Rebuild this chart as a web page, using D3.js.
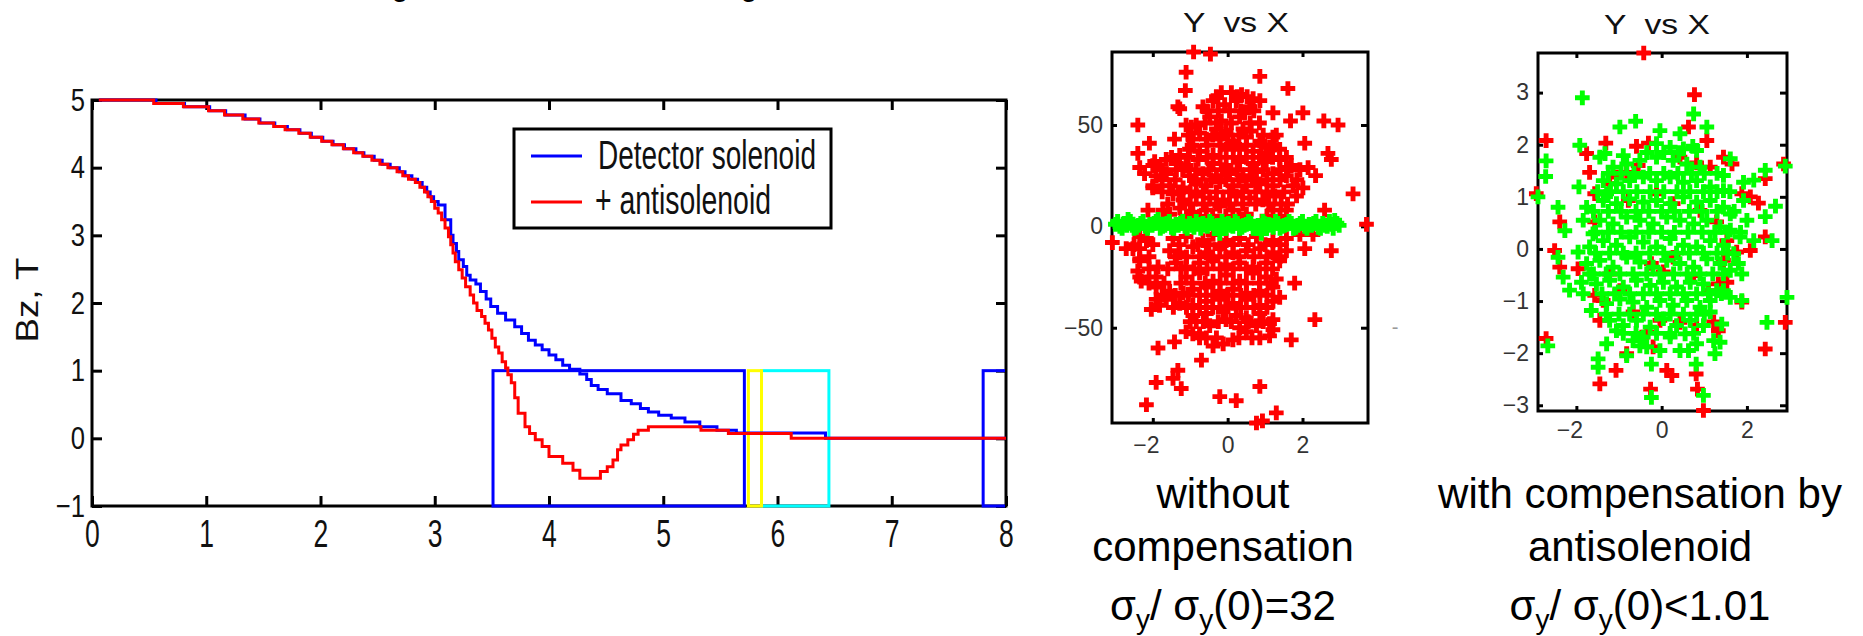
<!DOCTYPE html>
<html><head><meta charset="utf-8">
<script src="https://cdn.jsdelivr.net/npm/d3@7"></script>
<style>body{margin:0;background:#fff}svg{display:block}text{font-family:"Liberation Sans",Arial,sans-serif}</style>
</head><body><svg id="c" width="1863" height="636"></svg>
<script>
// ---------- data ----------
const mainXTicks=[0,1,2,3,4,5,6,7,8];
const mainYTicks=[-1,0,1,2,3,4,5];
const yAxisLabel="Bz, T";
const legendLabels=["Detector solenoid","+ antisolenoid"];
const detectorSolenoid=[[0.06,5.00],[0.56,4.95],[0.81,4.90],[1.03,4.84],[1.17,4.78],[1.34,4.72],[1.47,4.66],[1.60,4.61],[1.71,4.56],[1.82,4.51],[1.92,4.45],[2.02,4.39],[2.11,4.34],[2.21,4.28],[2.31,4.22],[2.38,4.17],[2.47,4.11],[2.54,4.05],[2.61,4.00],[2.69,3.94],[2.74,3.88],[2.80,3.83],[2.85,3.78],[2.89,3.71],[2.93,3.64],[2.96,3.57],[2.99,3.50],[3.03,3.45],[3.09,3.23],[3.14,3.00],[3.16,2.88],[3.19,2.76],[3.21,2.64],[3.25,2.54],[3.28,2.41],[3.31,2.34],[3.36,2.28],[3.40,2.17],[3.45,2.06],[3.49,1.95],[3.55,1.85],[3.62,1.75],[3.70,1.65],[3.76,1.55],[3.82,1.45],[3.88,1.38],[3.94,1.31],[4.00,1.23],[4.06,1.16],[4.12,1.08],[4.18,1.02],[4.27,0.95],[4.33,0.87],[4.37,0.78],[4.43,0.72],[4.51,0.66],[4.63,0.56],[4.72,0.51],[4.80,0.44],[4.87,0.39],[4.96,0.34],[5.07,0.30],[5.19,0.24],[5.32,0.17],[5.47,0.12],[5.64,0.08],[6.42,0.00],[8.00,0.00]];
const withAntisolenoid=[[0.06,5.00],[0.54,4.95],[0.80,4.90],[1.02,4.84],[1.16,4.78],[1.32,4.72],[1.46,4.66],[1.59,4.61],[1.69,4.56],[1.81,4.51],[1.91,4.45],[2.01,4.39],[2.10,4.34],[2.20,4.28],[2.29,4.22],[2.37,4.17],[2.45,4.11],[2.52,4.05],[2.59,4.00],[2.67,3.94],[2.72,3.88],[2.77,3.83],[2.83,3.78],[2.87,3.71],[2.91,3.64],[2.94,3.57],[2.97,3.50],[3.00,3.40],[3.03,3.33],[3.06,3.23],[3.09,3.11],[3.12,2.98],[3.14,2.86],[3.16,2.74],[3.18,2.61],[3.21,2.49],[3.24,2.37],[3.27,2.24],[3.31,2.12],[3.34,2.00],[3.37,1.89],[3.41,1.80],[3.44,1.70],[3.47,1.60],[3.50,1.48],[3.53,1.35],[3.56,1.26],[3.59,1.13],[3.62,1.04],[3.64,0.94],[3.67,0.82],[3.70,0.60],[3.73,0.37],[3.79,0.17],[3.83,0.07],[3.88,-0.02],[3.94,-0.12],[4.00,-0.27],[4.12,-0.37],[4.21,-0.47],[4.27,-0.59],[4.45,-0.49],[4.51,-0.42],[4.56,-0.32],[4.60,-0.17],[4.63,-0.10],[4.69,-0.02],[4.74,0.06],[4.78,0.12],[4.87,0.17],[5.33,0.12],[5.57,0.07],[6.12,0.00],[8.00,0.00]];
// element regions (z start, z end), field band -1..1
const regionStart=[3.51,5.86,5.745,7.80];
const regionEnd=[5.71,6.45,5.86,8.30];
const regionLow=-1, regionHigh=1;

const scatterTitle="Y  vs X";
const s1XTicks=[-2,0,2], s1YTicks=[-50,0,50];
const s2XTicks=[-2,0,2], s2YTicks=[-3,-2,-1,0,1,2,3];
const s1Red=[[-0.91,86],[-0.46,85],[-1.11,76],[0.86,74],[-1.13,67],[1.61,68],[-1.28,58],[1.21,56],[2.01,56],[-2.40,50],[1.68,52],[2.57,52],[2.95,50],[-2.09,41],[-1.42,43],[2.06,41],[-2.40,36],[2.68,36],[2.77,33],[-2.35,29],[-2.22,26],[-2.00,30],[-1.95,32],[2.15,29],[2.35,25],[-2.00,19],[3.35,16],[-2.13,8],[2.59,8],[3.71,1],[-3.08,-8],[-2.17,-6],[-2.53,-11],[2.06,-11],[2.77,-12],[-2.35,-17],[-2.40,-22],[-2.31,-27],[-1.86,-20],[1.79,-28],[2.33,-46],[1.70,-56],[-1.86,-60],[-1.42,-57],[-0.70,-66],[-1.33,-71],[-1.91,-77],[-1.46,-75],[-1.24,-80],[0.86,-79],[-2.17,-88],[-0.21,-84],[0.23,-86],[1.30,-92],[0.77,-97],[0.93,-96],
[-0.17,66],[0.10,66],[0.37,65],[0.68,63],[-0.66,59],[-0.39,62],[-0.08,60],[0.23,62],[0.59,59],[0.86,62],[-1.33,59],[-0.48,54],[-0.17,52],[0.32,54],[0.45,56],[-0.84,50],[-1.11,50],[-0.30,48],[-0.04,47],[0.41,48],[0.63,47],[-0.97,49],[-0.75,46],
[-0.93,43],[-0.57,43],[-0.21,43],[0.14,42],[0.50,44],[0.86,42],[1.21,44],[1.12,39],[-1.28,35],[-1.02,38],[-0.75,37],[-0.39,35],[-0.04,38],[0.32,38],[0.68,37],[1.03,36],[1.39,38],[1.57,34],
[-1.64,33],[-1.37,31],[-1.11,30],[-0.79,33],[-0.39,31],[-0.04,30],[0.32,32],[0.68,31],[1.03,32],[1.39,33],[1.61,29],[1.70,30],
[-1.91,25],[-1.64,26],[-1.37,28],[-1.02,25],[-0.66,26],[-0.30,25],[0.05,26],[0.41,25],[0.77,27],[1.21,26],[1.57,25],[1.93,28],
[-2.00,20],[-1.55,20],[-1.19,19],[-0.84,21],[-0.57,20],[-0.21,22],[0.14,20],[0.50,20],[0.86,21],[1.21,20],[1.75,20],[2.01,19],[1.84,15],
[-1.46,16],[-1.19,13],[-0.84,15],[-0.48,14],[-0.12,13],[0.23,15],[0.59,14],[0.94,13],[1.26,15],[1.43,11],
[-1.73,8],[-1.28,9],[-0.93,7],[-0.57,8],[-0.21,10],[0.14,8],[0.50,6],[1.21,8],[1.57,8],[-1.55,6],
[-2.35,-5],[-2.17,-7],[-1.46,-6],[-1.11,-5],[-0.66,-7],[-0.39,-4],[-0.04,-7],[0.32,-6],[0.77,-5],[1.21,-7],[1.57,-6],[1.93,-4],[2.28,-4],
[-2.71,-11],[-2.35,-11],[-1.55,-12],[-1.28,-13],[-0.93,-10],[-0.57,-13],[-0.21,-11],[0.14,-13],[0.50,-12],[0.86,-11],[1.21,-13],[1.57,-12],
[-2.35,-16],[-1.37,-18],[-1.11,-20],[-0.75,-18],[-0.39,-17],[-0.04,-19],[0.32,-18],[0.68,-20],[1.03,-18],[1.39,-17],
[-2.35,-25],[-1.91,-25],[-1.11,-25],[-0.75,-23],[-0.39,-27],[-0.04,-24],[0.32,-27],[0.68,-23],[1.03,-25],[1.30,-26],
[-1.91,-30],[-1.55,-32],[-1.19,-33],[-0.93,-31],[-0.57,-30],[-0.21,-32],[0.14,-31],[0.50,-33],[0.86,-32],[1.21,-30],[1.39,-35],
[-1.91,-36],[-1.64,-36],[-1.28,-38],[-0.93,-39],[-0.57,-37],[-0.21,-36],[0.14,-38],[0.50,-36],[0.86,-39],[1.21,-37],
[-2.04,-41],[-1.82,-39],[-0.93,-44],[-0.57,-43],[-0.12,-42],[0.23,-44],[0.50,-45],[0.86,-43],[1.21,-46],
[-0.84,-47],[-0.48,-49],[-0.04,-46],[0.32,-50],[0.77,-49],[1.12,-48],[1.21,-51],[-1.11,-52],[-0.75,-53],
[-0.57,-55],[-0.12,-58],[0.14,-56],[0.50,-52],[0.86,-55],[1.12,-54],[-0.39,-59],[-0.93,-53],
[-0.30,64],[0.25,64],[0.52,64],[-0.55,57],[-0.25,57],[0.05,57],[0.35,57],[0.70,57],[-0.60,51],[-0.30,51],[0.10,51],[0.60,51],[0.85,51],
[-1.05,45],[-0.40,45],[0.00,45],[0.30,45],[0.95,45],[1.30,45],[-0.95,40],[-0.55,40],[-0.20,40],[0.15,40],[0.50,40],[0.90,40],[1.25,40],
[-1.50,34],[-1.05,34],[-0.55,34],[-0.20,34],[0.15,34],[0.50,34],[0.85,34],[1.20,34],
[-1.75,28],[-1.20,28],[-0.85,28],[-0.50,28],[-0.15,28],[0.25,28],[0.60,28],[0.95,28],[1.40,28],
[-1.75,23],[-1.40,23],[-0.85,23],[-0.45,23],[-0.05,23],[0.30,23],[0.65,23],[1.05,23],[1.40,23],[1.85,23],
[-1.75,17],[-1.30,17],[-1.00,17],[-0.65,17],[-0.30,17],[0.05,17],[0.40,17],[0.75,17],[1.05,17],[1.50,17],
[-1.60,11],[-1.00,11],[-0.65,11],[-0.30,11],[0.05,11],[0.40,11],[0.75,11],[1.10,11],[1.60,11],
[-1.10,5],[-0.75,5],[-0.40,5],[-0.05,5],[0.30,5],[1.05,5],[1.40,5],
[-2.50,-9],[-2.00,-9],[-1.30,-9],[-0.80,-9],[-0.50,-9],[-0.20,-9],[0.15,-9],[0.55,-9],[1.00,-9],[1.40,-9],
[-2.10,-15],[-1.40,-15],[-1.10,-15],[-0.75,-15],[-0.40,-15],[-0.05,-15],[0.30,-15],[0.70,-15],[1.05,-15],[1.40,-15],
[-2.10,-21],[-1.60,-21],[-1.25,-21],[-0.90,-21],[-0.55,-21],[-0.20,-21],[0.15,-21],[0.50,-21],[0.85,-21],[1.20,-21],
[-2.10,-28],[-1.70,-28],[-1.25,-28],[-0.95,-28],[-0.60,-28],[-0.20,-28],[0.15,-28],[0.50,-28],[0.85,-28],[1.15,-28],
[-1.75,-34],[-1.40,-34],[-1.05,-34],[-0.75,-34],[-0.40,-34],[0.00,-34],[0.35,-34],[0.70,-34],[1.05,-34],
[-1.45,-40],[-1.10,-40],[-0.75,-40],[-0.40,-40],[-0.05,-40],[0.35,-40],[0.70,-40],[1.05,-40],
[-1.00,-47],[-0.65,-47],[-0.25,-47],[0.10,-47],[0.55,-47],[0.95,-47],[-0.75,-55],[-0.30,-55],[0.30,-55],[0.65,-55]];
const s1Green=[[-3.00,1],[-2.88,0],[-2.76,1.5],[-2.66,3.5],[-2.55,0.5],[-2.44,-0.5],[-2.32,1.5],[-2.20,0],[-2.08,1],[-1.96,1.5],[-1.86,3.5],[-1.74,0],[-1.62,1.5],[-1.50,-0.5],[-1.38,1],[-1.26,1.5],[-1.14,0],[-1.02,1.5],[-0.90,-0.5],[-0.78,1],[-0.66,1.5],[-0.54,0],[-0.42,1.5],[-0.30,-0.5],[-0.21,-3.5],[-0.10,1],[0.02,1.5],[0.14,0],[0.26,1.5],[0.38,-0.5],[0.50,1],[0.62,1.5],[0.74,0],[0.90,-3.5],[0.98,1.5],[1.10,1],[1.22,-0.5],[1.34,1.5],[1.46,0],[1.58,1],[1.70,1.5],[1.82,-0.5],[1.94,1.5],[2.06,0],[2.18,1],[2.30,1.5],[2.42,-0.5],[2.54,1.5],[2.66,0],[2.78,1],[2.86,3],[2.98,0.5],
[-2.94,2.5],[-2.82,-1],[-2.70,0.5],[-2.60,2.5],[-2.50,-1],[-2.38,0.5],[-2.26,2.5],[-2.14,-1],[-2.02,0.5],[-1.91,2.5],[-1.80,-1],[-1.68,0.5],[-1.56,2.5],[-1.44,-1],[-1.32,0.5],[-1.20,2.5],[-1.08,-1],[-0.96,0.5],[-0.84,2.5],[-0.72,-1],[-0.60,0.5],[-0.48,2.5],[-0.36,-1],[-0.25,0.5],[-0.15,2.5],[-0.04,-1],[0.08,0.5],[0.20,2.5],[0.32,-1],[0.44,0.5],[0.56,2.5],[0.68,-1],[0.82,0.5],[0.94,2.5],[1.04,-1],[1.16,0.5],[1.28,2.5],[1.40,-1],[1.52,0.5],[1.64,2.5],[1.76,-1],[1.88,0.5],[2.00,2.5],[2.12,-1],[2.24,0.5],[2.36,2.5],[2.48,-1],[2.60,0.5],[2.72,2.5],[2.82,-1],[2.92,1.5]];
const s2Red=[[-0.42,3.76],[0.77,2.96],[-2.71,2.08],[-1.31,2.03],[1.06,2.08],[0.63,2.34],[-0.31,2.03],[-0.59,1.97],[-1.76,1.83],[-0.55,1.60],[-1.69,1.47],[0.82,1.65],[2.43,1.35],[2.86,1.63],[-1.57,1.06],[-2.94,1.06],[1.88,1.06],[2.27,0.88],[-2.39,0.52],[-1.57,0.52],[-2.51,-0.03],[-2.39,-0.35],[-1.96,-0.38],[1.76,-0.06],[2.08,-0.03],[2.43,0.23],[-1.57,-0.89],[-1.37,-0.99],[1.33,-0.67],[1.53,-0.64],[1.88,-1.02],[2.90,-1.41],[2.43,-1.92],[-2.71,-1.72],[0.82,-1.47],[0.43,-1.41],[1.33,-1.57],[-0.35,-1.60],[-1.07,-2.33],[-1.45,-2.59],[0.12,-2.33],[0.24,-2.43],[0.81,-2.40],[-0.26,-2.69],[0.84,-2.69],[0.98,-3.10],[-0.82,-2.01],[-0.20,-1.88],[-1.06,1.38],[-0.82,1.47],[0.43,1.76],[1.45,1.76],[1.65,1.63],[1.14,1.57],[-1.22,1.25],[0.90,0.74],[1.29,0.52],[1.53,0.16],[0.27,-0.16],[-0.24,-0.28],[0.04,-0.44],[-1.22,-0.48],[0.75,-0.51],[1.45,-0.22],[-0.98,-0.80],[-1.45,-1.37],[-0.67,-1.21],[-0.04,-1.37],[-0.78,0.93],[-0.12,1.06],[0.27,0.87],[2.08,1.00],[1.22,-1.40],[1.10,-0.80]];
const s2Green=[[-1.86,2.90],[0.75,2.59],[-0.61,2.45],[-0.98,2.34],[1.06,2.34],[0.43,2.21],[-0.04,2.27],[-2.71,1.69],[-2.72,1.39],[-1.92,1.99],[-1.33,1.83],[-0.90,1.79],[0.73,1.97],[1.61,1.73],[1.45,1.41],[2.43,1.51],[2.90,1.59],[1.92,1.28],[2.16,1.32],[-1.94,1.19],[-2.90,1.00],[-2.43,0.80],[-1.76,0.80],[-1.84,0.55],[-2.27,0.35],[1.92,0.93],[2.67,0.82],[2.43,0.62],[2.00,0.55],[1.84,0.23],[2.16,0.16],[2.59,0.16],[-2.43,-0.16],[-1.96,-0.06],[-2.31,-0.54],[-1.88,-0.64],[-2.16,-0.79],[-1.84,-0.86],[-1.69,-0.48],[-1.65,-1.18],[1.80,-0.28],[1.88,-0.48],[1.45,-0.80],[1.61,-0.93],[1.14,-0.99],[1.88,-0.99],[2.94,-0.93],[2.47,-1.41],[1.41,-1.44],[1.22,-1.76],[1.37,-1.79],[1.25,-2.01],[-2.67,-1.86],[-1.49,-2.11],[-1.49,-2.27],[-1.29,-1.82],[-0.82,-2.05],[-0.51,-1.86],[-0.24,-2.21],[-0.04,-1.95],[0.63,-1.95],[0.82,-1.82],[0.81,-2.21],[-0.24,-2.85],[0.98,-2.81],[0.55,-1.63],
[-0.12,2.02],[0.20,1.95],[0.51,1.92],[0.82,1.89],[-1.45,1.76],[-1.14,1.57],[-0.82,1.63],[-0.51,1.70],[-0.12,1.76],[0.27,1.70],[0.59,1.63],[0.90,1.57],
[-1.37,1.31],[-1.06,1.25],[-0.75,1.31],[-0.43,1.38],[-0.12,1.31],[0.20,1.38],[0.51,1.28],[0.82,1.31],[1.14,1.19],[1.45,1.12],[-1.29,1.06],
[-1.37,0.93],[-1.06,0.87],[-0.75,0.96],[-0.43,0.90],[-0.12,0.93],[0.20,0.87],[0.51,1.00],[0.82,0.90],[1.14,0.93],[1.45,0.80],[1.61,0.67],
[-1.45,0.55],[-1.14,0.48],[-0.82,0.61],[-0.51,0.55],[-0.20,0.48],[0.12,0.61],[0.43,0.55],[0.75,0.48],[1.06,0.55],[1.37,0.42],[1.61,0.36],[-1.61,0.29],
[-1.69,0.04],[-1.37,0.16],[-1.06,0.07],[-0.75,0.23],[-0.43,0.13],[-0.12,0.04],[0.20,0.20],[0.51,0.07],[0.82,0.04],[1.14,0.16],[1.45,0.07],[1.69,-0.09],
[-1.76,-0.28],[-1.45,-0.22],[-1.14,-0.35],[-0.82,-0.16],[-0.51,-0.25],[-0.20,-0.35],[0.12,-0.22],[0.43,-0.28],[0.75,-0.35],[1.06,-0.19],[1.37,-0.28],[1.61,-0.41],
[-1.53,-0.67],[-1.22,-0.60],[-0.90,-0.73],[-0.59,-0.60],[-0.27,-0.70],[0.04,-0.64],[0.35,-0.73],[0.67,-0.64],[0.98,-0.67],[1.29,-0.80],
[-1.29,-1.05],[-0.98,-0.96],[-0.67,-1.02],[-0.35,-1.12],[-0.04,-0.99],[0.27,-1.08],[0.59,-0.99],[0.90,-1.12],[1.14,-1.21],
[-1.22,-1.37],[-0.90,-1.47],[-0.59,-1.37],[-0.27,-1.50],[0.04,-1.34],[0.35,-1.47],[0.67,-1.37],[0.98,-1.47],[-1.06,-1.57],
[-0.67,-1.76],[-0.35,-1.88],[0.20,-1.69],[0.43,-1.95],[-0.43,-1.69],
[-0.35,1.85],[0.05,1.85],[0.40,1.85],
[-1.25,1.45],[-0.95,1.45],[-0.65,1.45],[-0.28,1.45],[0.05,1.45],[0.38,1.45],[0.70,1.45],[1.00,1.45],[1.30,1.45],
[-1.50,1.10],[-1.20,1.10],[-0.90,1.10],[-0.58,1.10],[-0.27,1.10],[0.05,1.10],[0.36,1.10],[0.66,1.10],[0.98,1.10],[1.30,1.10],[1.60,1.10],
[-1.60,0.72],[-1.25,0.72],[-0.95,0.72],[-0.60,0.72],[-0.30,0.72],[0.00,0.72],[0.30,0.72],[0.65,0.72],[0.95,0.72],[1.30,0.72],[1.70,0.72],
[-1.55,0.32],[-1.25,0.32],[-0.95,0.32],[-0.60,0.32],[-0.30,0.32],[0.00,0.32],[0.30,0.32],[0.62,0.32],[0.95,0.32],[1.25,0.32],[1.55,0.32],[1.85,0.32],
[-1.55,-0.08],[-1.22,-0.08],[-0.90,-0.08],[-0.60,-0.08],[-0.28,-0.08],[0.05,-0.08],[0.35,-0.08],[0.65,-0.08],[0.98,-0.08],[1.30,-0.08],[1.55,-0.08],
[-1.60,-0.48],[-1.30,-0.48],[-0.98,-0.48],[-0.67,-0.48],[-0.35,-0.48],[-0.04,-0.48],[0.28,-0.48],[0.60,-0.48],[0.90,-0.48],[1.20,-0.48],[1.45,-0.48],
[-1.40,-0.86],[-1.10,-0.86],[-0.75,-0.86],[-0.43,-0.86],[-0.12,-0.86],[0.20,-0.86],[0.51,-0.86],[0.82,-0.86],[1.10,-0.86],[1.40,-0.86],
[-1.30,-1.25],[-1.00,-1.25],[-0.75,-1.25],[-0.43,-1.25],[-0.12,-1.25],[0.20,-1.25],[0.51,-1.25],[0.82,-1.25],[1.00,-1.25],
[-0.90,-1.62],[-0.60,-1.62],[-0.12,-1.62],[0.20,-1.62],[0.75,-1.62]];
const caption1=["without","compensation"], ratio1="=32";
const caption2=["with compensation by","antisolenoid"], ratio2="<1.01";

// ---------- drawing ----------
const svg=d3.select("#c");
svg.append("rect").attr("width",1863).attr("height",636).attr("fill","#fff");

// glyph tails of a title line cut off above the page
[400,749].forEach(x=>svg.append("text").attr("x",x).attr("y",-4).attr("text-anchor","middle").attr("font-size",30).text("g"));

// ===== main chart =====
const x=d3.scaleLinear().domain([0,8]).range([92,1006]);
const y=d3.scaleLinear().domain([-1,5]).range([506,100]);
const g=svg.append("g");
function squeeze(sel,f){sel.each(function(){const w=this.getComputedTextLength();d3.select(this).attr("textLength",w*f).attr("lengthAdjust","spacingAndGlyphs");});}

const axB=g.append("g").attr("transform",`translate(0,${y(-1)})`).call(d3.axisBottom(x).tickValues(mainXTicks).tickSizeInner(-10).tickSizeOuter(0).tickPadding(13).tickFormat(d3.format("d")));
const axT=g.append("g").attr("transform",`translate(0,${y(5)})`).call(d3.axisTop(x).tickValues(mainXTicks).tickSizeInner(-10).tickSizeOuter(0).tickFormat(""));
const axL=g.append("g").attr("transform",`translate(${x(0)},0)`).call(d3.axisLeft(y).tickValues(mainYTicks).tickSizeInner(-10).tickSizeOuter(0).tickPadding(7).tickFormat(d3.format("d")));
const axR=g.append("g").attr("transform",`translate(${x(8)},0)`).call(d3.axisRight(y).tickValues(mainYTicks).tickSizeInner(-10).tickSizeOuter(0).tickFormat(""));
[axB,axT,axL,axR].forEach(a=>{a.select(".domain").remove();a.selectAll("line").attr("stroke","#000").attr("stroke-width",3);});
axB.selectAll("text").attr("font-size",39).attr("fill","#111").call(squeeze,0.68);
axL.selectAll("text").attr("font-size",32).attr("fill","#111").call(squeeze,0.8);
g.append("rect").attr("x",x(0)).attr("y",y(5)).attr("width",x(8)-x(0)).attr("height",y(-1)-y(5)).attr("fill","none").attr("stroke","#000").attr("stroke-width",3);

// region boxes
const regionColors=["#0000ff","#00ffff","#ffff00","#0000ff"];
svg.append("clipPath").attr("id","clipR").append("rect").attr("x",0).attr("y",0).attr("width",x(8)-1).attr("height",636);
g.append("g").attr("clip-path","url(#clipR)").selectAll("rect").data(regionStart).join("rect")
 .attr("x",d=>x(d)).attr("y",y(regionHigh)).attr("width",(d,i)=>x(regionEnd[i])-x(d)).attr("height",y(regionLow)-y(regionHigh))
 .attr("fill","none").attr("stroke",(d,i)=>regionColors[i]).attr("stroke-width",3);

// curves
const line=d3.line().x(d=>x(d[0])).y(d=>y(d[1])).curve(d3.curveStepAfter);
g.append("path").attr("d",line(detectorSolenoid)).attr("fill","none").attr("stroke","#0000ff").attr("stroke-width",3);
g.append("path").attr("d",line(withAntisolenoid)).attr("fill","none").attr("stroke","#ff0000").attr("stroke-width",3);

// legend
g.append("rect").attr("x",514).attr("y",129).attr("width",317).attr("height",99).attr("fill","#fff").attr("stroke","#000").attr("stroke-width",3);
const legColors=["#0000ff","#ff0000"], legY=[156,202], legTL=[218,176], legTX=[598,595], legTB=[169,214];
legendLabels.forEach((t,i)=>{
  g.append("line").attr("x1",531).attr("x2",582).attr("y1",legY[i]).attr("y2",legY[i]).attr("stroke",legColors[i]).attr("stroke-width",3);
  g.append("text").attr("x",legTX[i]).attr("y",legTB[i]).attr("font-size",40).attr("fill","#111").attr("textLength",legTL[i]).attr("lengthAdjust","spacingAndGlyphs").text(t);
});
// y label
g.append("text").attr("transform","translate(38,300) rotate(-90)").attr("text-anchor","middle").attr("font-size",32).attr("fill","#111").attr("textLength",85).attr("lengthAdjust","spacingAndGlyphs").text(yAxisLabel);

// ===== scatter plots =====
function scatter(opt){
  const sx=d3.scaleLinear().domain(opt.xd).range(opt.xr);
  const sy=d3.scaleLinear().domain(opt.yd).range(opt.yr);
  const sg=svg.append("g");
  const mk=d3.symbol(d3.symbolCross,120);
  const ab=sg.append("g").attr("transform",`translate(0,${opt.yr[0]})`).call(d3.axisBottom(sx).tickValues(opt.xt).tickSizeInner(-5).tickSizeOuter(0).tickPadding(opt.xpad).tickFormat(d3.format("d")));
  const at=sg.append("g").attr("transform",`translate(0,${opt.yr[1]})`).call(d3.axisTop(sx).tickValues(opt.xt).tickSizeInner(-5).tickSizeOuter(0).tickFormat(""));
  const al=sg.append("g").attr("transform",`translate(${opt.xr[0]},0)`).call(d3.axisLeft(sy).tickValues(opt.yt).tickSizeInner(-5).tickSizeOuter(0).tickPadding(9).tickFormat(d3.format("d")));
  const ar=sg.append("g").attr("transform",`translate(${opt.xr[1]},0)`).call(d3.axisRight(sy).tickValues(opt.yt).tickSizeInner(-7).tickSizeOuter(0).tickFormat(""));
  [ab,at,al,ar].forEach(a=>{a.select(".domain").remove();a.selectAll("line").attr("stroke","#000").attr("stroke-width",3);});
  ab.selectAll("text").attr("font-size",23).attr("fill","#333").attr("dx",d=>d<0?"-0.3em":0);
  al.selectAll("text").attr("font-size",23).attr("fill","#333");
  sg.append("rect").attr("x",opt.xr[0]).attr("y",opt.yr[1]).attr("width",opt.xr[1]-opt.xr[0]).attr("height",opt.yr[0]-opt.yr[1]).attr("fill","none").attr("stroke","#000").attr("stroke-width",3);
  sg.append("g").selectAll("path").data(opt.red).join("path").attr("d",mk).attr("transform",d=>`translate(${sx(d[0])},${sy(d[1])})`).attr("fill","#ff0000");
  sg.append("g").selectAll("path").data(opt.green).join("path").attr("d",mk).attr("transform",d=>`translate(${sx(d[0])},${sy(d[1])})`).attr("fill","#00ff00");
  sg.append("text").attr("x",opt.tx).attr("y",opt.ty).attr("text-anchor","middle").attr("font-size",27).attr("fill","#111").style("white-space","pre").attr("textLength",106).attr("lengthAdjust","spacingAndGlyphs").text(scatterTitle);
}
scatter({xd:[-3.09,3.75],xr:[1112,1368],yd:[-97,86],yr:[423,52],xt:s1XTicks,yt:s1YTicks,xpad:14,red:s1Red,green:s1Green,tx:1236,ty:32});
scatter({xd:[-2.90,2.94],xr:[1538,1787],yd:[-3.11,3.76],yr:[411,53],xt:s2XTicks,yt:s2YTicks,xpad:11,red:s2Red,green:s2Green,tx:1657,ty:34});
svg.append("text").attr("x",1395).attr("y",334).attr("text-anchor","middle").attr("font-size",20).attr("fill","#999").text("-");

// captions
function caption(cx,lines,ratio){
  lines.forEach((t,i)=>svg.append("text").attr("x",cx).attr("y",[508,561][i]).attr("text-anchor","middle").attr("font-size",42).attr("fill","#000").text(t));
  const t=svg.append("text").attr("x",cx).attr("y",620).attr("text-anchor","middle").attr("font-size",42).attr("fill","#000");
  t.append("tspan").text("σ");
  t.append("tspan").attr("font-size",28).attr("dy",9).text("y");
  t.append("tspan").attr("dy",-9).text("/ σ");
  t.append("tspan").attr("font-size",28).attr("dy",9).text("y");
  t.append("tspan").attr("dy",-9).text("(0)"+ratio);
}
caption(1223,caption1,ratio1);
caption(1640,caption2,ratio2);
</script></body></html>
